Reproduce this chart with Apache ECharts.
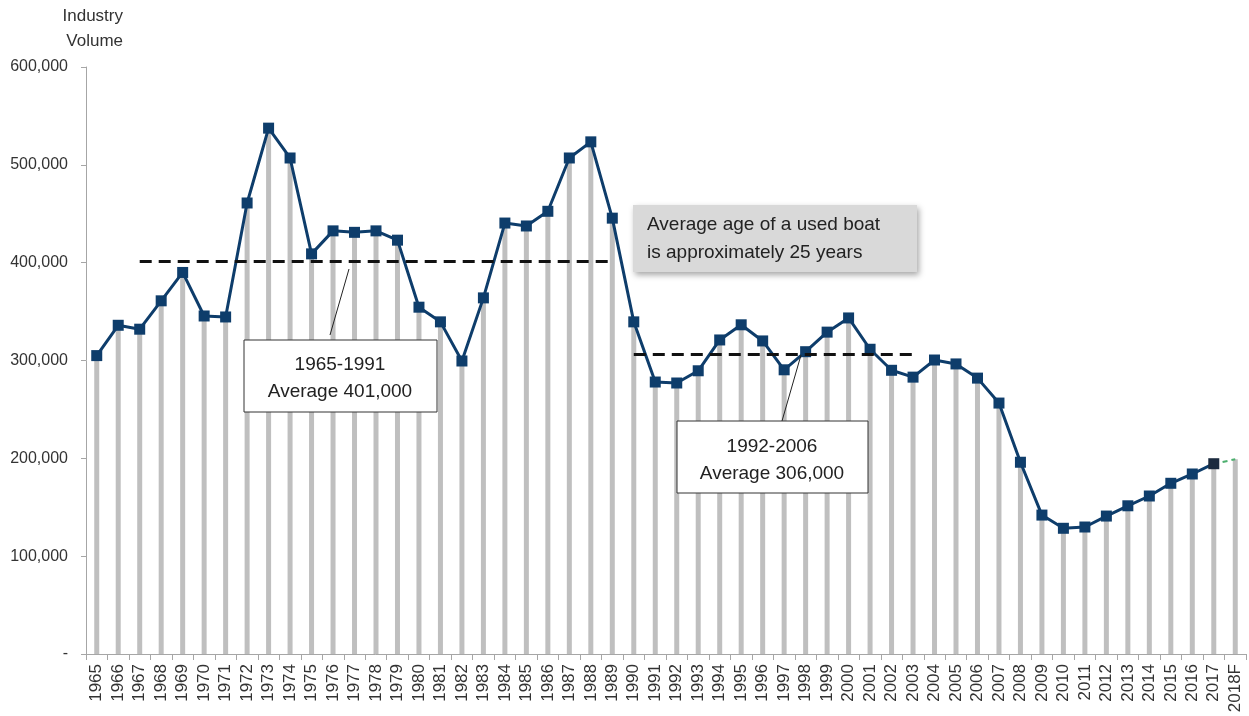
<!DOCTYPE html>
<html>
<head>
<meta charset="utf-8">
<script src="https://cdn.jsdelivr.net/npm/echarts@6/dist/echarts.min.js"></script>
<style>
  html, body { margin: 0; padding: 0; background: #fff; }
  #chart { width: 1249px; height: 716px; }
</style>
</head>
<body>
<div id="chart"></div>
<script>
const years = ['1965', '1966', '1967', '1968', '1969', '1970', '1971', '1972', '1973', '1974',
  '1975', '1976', '1977', '1978', '1979', '1980', '1981', '1982', '1983', '1984',
  '1985', '1986', '1987', '1988', '1989', '1990', '1991', '1992', '1993', '1994',
  '1995', '1996', '1997', '1998', '1999', '2000', '2001', '2002', '2003', '2004',
  '2005', '2006', '2007', '2008', '2009', '2010', '2011', '2012', '2013', '2014',
  '2015', '2016', '2017', '2018F'];

// industry volume, actuals 1965-2017
const volume = [305000, 336000, 332000, 361000, 390000, 345500, 344500, 461000, 537500, 507000,
  409000, 432500, 431000, 432500, 423000, 354500, 339500, 299500, 364000, 440500,
  437500, 452500, 507000, 523500, 445500, 339500, 278000, 277000, 289500, 321000,
  336500, 320000, 290500, 309000, 329000, 343500, 311500, 290000, 283000, 300500,
  296500, 282000, 256500, 196000, 142000, 128500, 129800, 141000, 151500, 161500,
  174500, 184000, 194500];

const forecast2018 = 199000;

// period averages
const avgPeriods = [
  { from: '1967', to: '1989', value: 401000 },
  { from: '1990', to: '2003', value: 306000 }
];

const navy = '#0e3d6b';

const barData = volume.concat([forecast2018]);
const lineData = volume.map((v, i) =>
  i === volume.length - 1 ? { value: v, itemStyle: { color: '#1c2b3f' } } : v
).concat([null]);
const fcData = years.map((y, i) => {
  if (i === volume.length - 1) return volume[i];
  if (i === volume.length) return forecast2018;
  return null;
});

const chart = echarts.init(document.getElementById('chart'));

const font = 'Liberation Sans, Arial, sans-serif';

chart.setOption({
  animation: false,
  textStyle: { fontFamily: font },
  grid: { left: 86, right: 3, top: 67, bottom: 62 },
  xAxis: {
    type: 'category',
    data: years,
    axisLine: { lineStyle: { color: '#a6a6a6' } },
    axisTick: { show: true, length: 6, lineStyle: { color: '#a6a6a6' } },
    axisLabel: { rotate: 90, fontSize: 17, color: '#333', margin: 10, interval: 0 }
  },
  yAxis: {
    type: 'value',
    min: 0,
    max: 600000,
    interval: 100000,
    splitLine: { show: false },
    axisLine: { show: true, lineStyle: { color: '#a6a6a6' } },
    axisTick: { show: true, length: 5, lineStyle: { color: '#a6a6a6' } },
    axisLabel: {
      fontSize: 16,
      color: '#333',
      margin: 18,
      formatter: v => v === 0 ? '-' : v.toLocaleString('en-US')
    }
  },
  series: [
    {
      type: 'bar',
      data: barData,
      barWidth: 5,
      itemStyle: { color: '#bfbfbf' },
      z: 1
    },
    {
      type: 'line',
      data: lineData,
      symbol: 'rect',
      symbolSize: 11,
      lineStyle: { color: navy, width: 3 },
      itemStyle: { color: navy },
      z: 4,
      markLine: {
        silent: true,
        symbol: 'none',
        label: { show: false },
        lineStyle: { color: '#111', width: 3, type: [12, 7] },
        data: avgPeriods.map(p => [
          { xAxis: p.from, yAxis: p.value },
          { xAxis: p.to, yAxis: p.value }
        ])
      }
    },
    {
      type: 'line',
      data: fcData,
      symbol: 'none',
      lineStyle: { color: '#4caf6e', width: 2, type: [5, 4] },
      z: 3
    }
  ],
  graphic: [
    {
      type: 'text',
      x: 123,
      y: 4,
      style: { text: 'Industry\nVolume', font: '17px ' + font, fill: '#333', lineHeight: 25, align: 'right' }
    },
    {
      type: 'rect',
      shape: { x: 633, y: 205, width: 284, height: 67 },
      style: { fill: '#d9d9d9', shadowBlur: 6, shadowOffsetX: 2, shadowOffsetY: 3, shadowColor: 'rgba(0,0,0,0.35)' },
      z: 10
    },
    {
      type: 'text',
      x: 647,
      y: 211,
      style: { text: 'Average age of a used boat\nis approximately 25 years', font: '19px ' + font, fill: '#222', lineHeight: 28 },
      z: 11
    },
    {
      type: 'line',
      shape: { x1: 330, y1: 335, x2: 349, y2: 269 },
      style: { stroke: '#222', lineWidth: 1 },
      z: 10
    },
    {
      type: 'rect',
      shape: { x: 244, y: 340, width: 193, height: 72 },
      style: { fill: '#fff', stroke: '#333', lineWidth: 1 },
      z: 10
    },
    {
      type: 'text',
      x: 340,
      y: 351,
      style: { text: '1965-1991\nAverage 401,000', font: '19px ' + font, fill: '#222', lineHeight: 27, align: 'center' },
      z: 11
    },
    {
      type: 'line',
      shape: { x1: 782, y1: 421, x2: 801, y2: 355 },
      style: { stroke: '#222', lineWidth: 1 },
      z: 10
    },
    {
      type: 'rect',
      shape: { x: 677, y: 421, width: 191, height: 72 },
      style: { fill: '#fff', stroke: '#333', lineWidth: 1 },
      z: 10
    },
    {
      type: 'text',
      x: 772,
      y: 433,
      style: { text: '1992-2006\nAverage 306,000', font: '19px ' + font, fill: '#222', lineHeight: 27, align: 'center' },
      z: 11
    }
  ]
});
</script>
</body>
</html>
